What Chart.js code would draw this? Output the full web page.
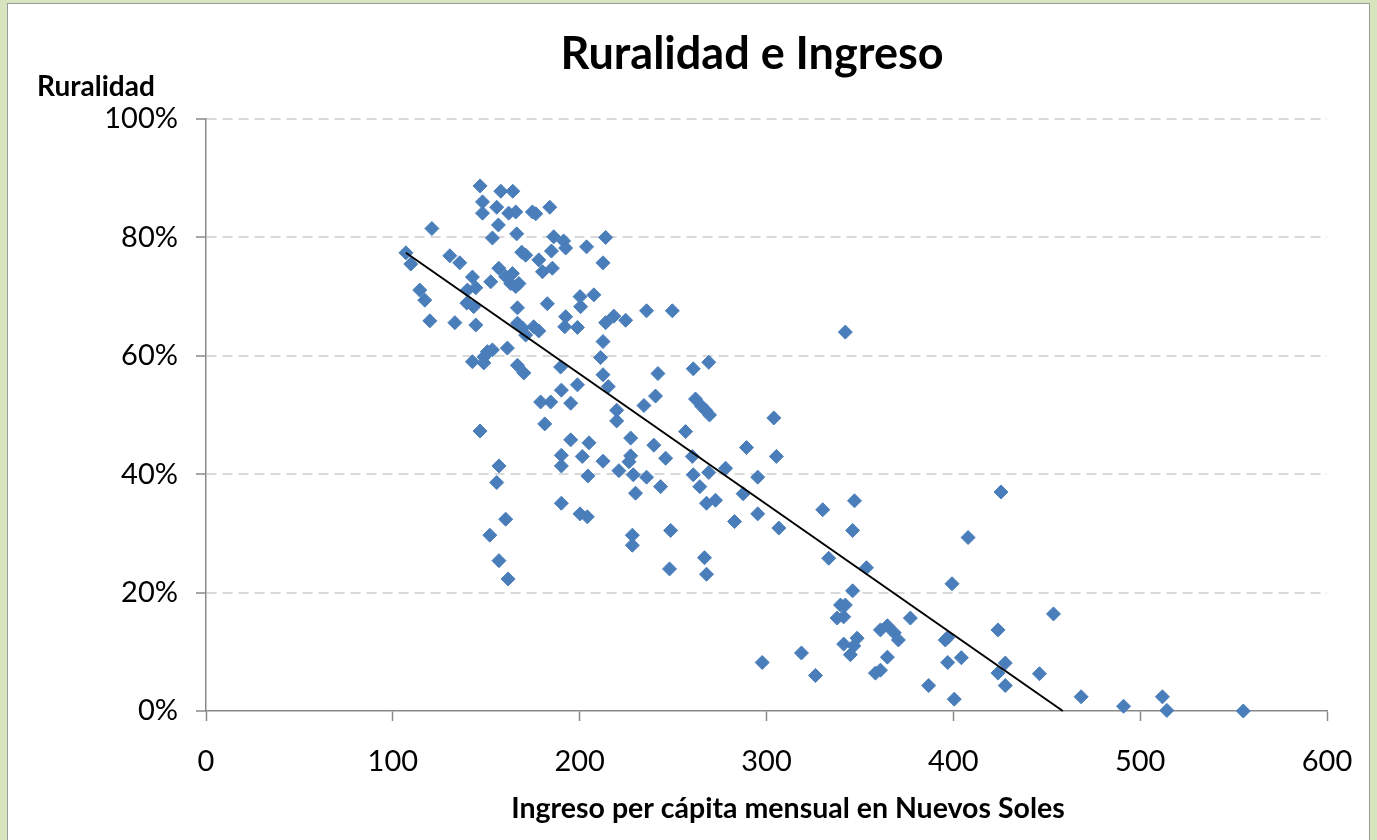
<!DOCTYPE html>
<html><head><meta charset="utf-8">
<script src="https://cdn.jsdelivr.net/npm/chart.js@4/dist/chart.umd.min.js"></script>
<style>html,body{margin:0;padding:0;background:#d7e4bd;overflow:hidden}canvas{display:block}</style>
</head><body>
<canvas id="c" width="1377" height="840" style="width:1377px;height:840px"></canvas>
<script>
// Ingreso per cápita mensual (Nuevos Soles)
const ingreso = [146.7,157.8,164.2,148.0,155.6,148.0,162.0,165.8,174.7,176.5,184.0,120.9,156.5,153.3,166.3,186.1,191.4,192.5,107.0,109.6,
130.5,135.8,169.0,171.1,178.1,184.9,180.1,185.4,142.6,156.7,160.4,164.0,163.1,167.5,165.8,152.4,139.9,144.4,114.4,117.1,
139.6,143.3,166.7,182.7,119.8,133.2,144.4,166.7,169.4,171.1,175.4,178.1,192.5,192.0,161.3,150.6,153.3,148.7,142.6,148.7,
166.7,189.8,170.1,190.2,179.1,184.5,195.2,181.3,146.7,195.2,190.2,190.2,156.8,155.6,190.2,160.4,151.9,156.8,161.7,203.7,
213.9,212.5,200.2,200.5,207.6,198.8,218.3,224.6,213.9,235.8,249.6,212.5,211.2,212.5,198.8,215.3,241.9,260.8,269.1,240.6,
219.8,219.8,234.4,262.0,265.2,267.4,269.5,256.7,205.0,227.3,239.7,201.4,212.5,227.3,226.4,246.0,260.3,221.0,228.7,204.4,
235.8,260.8,269.1,243.3,264.3,229.9,267.9,272.7,200.2,204.1,248.7,228.2,228.2,266.8,248.1,303.9,289.3,305.3,278.1,295.3,
287.5,295.3,282.9,330.1,347.1,306.6,346.1,333.3,353.5,267.9,346.1,339.6,342.2,337.8,341.3,361.0,364.7,368.4,370.6,341.3,
348.5,346.7,344.9,364.7,358.3,361.0,297.7,318.7,326.2,342.2,425.5,407.9,399.3,453.6,377.0,423.9,395.7,397.0,404.3,397.0,
427.8,423.9,446.1,427.8,386.8,400.5,468.4,491.1,511.9,514.3,555.2];
// Ruralidad (%)
const ruralidad = [88.7,87.8,87.8,86.0,85.1,84.1,84.1,84.3,84.3,84.0,85.1,81.5,82.1,79.9,80.6,80.1,79.4,78.2,77.4,75.5,
76.9,75.7,77.5,77.0,76.2,77.7,74.2,74.8,73.3,74.8,73.4,73.9,72.2,72.2,71.7,72.5,71.1,71.5,71.1,69.4,
68.9,68.3,68.1,68.8,65.9,65.6,65.2,65.5,64.7,63.5,64.9,64.2,66.6,64.9,61.3,60.7,61.0,59.8,59.0,58.8,
58.4,58.1,57.1,54.2,52.2,52.2,52.0,48.5,47.3,45.8,43.2,41.4,41.4,38.6,35.1,32.4,29.7,25.4,22.3,78.4,
80.0,75.7,70.0,68.3,70.3,64.8,66.7,66.0,65.6,67.6,67.6,62.4,59.7,56.8,55.1,54.8,57.0,57.8,58.9,53.2,
50.8,49.0,51.6,52.7,51.5,50.8,50.0,47.2,45.3,46.1,44.9,43.0,42.2,43.1,42.1,42.7,43.0,40.6,39.9,39.7,
39.5,39.9,40.3,37.9,37.9,36.8,35.1,35.6,33.3,32.8,30.5,29.7,28.0,25.9,24.0,49.5,44.5,43.0,41.0,39.5,
36.7,33.3,32.0,34.0,35.5,30.9,30.5,25.8,24.2,23.1,20.3,17.9,17.9,15.7,15.9,13.7,14.4,13.2,12.0,11.3,
12.3,11.0,9.5,9.1,6.4,6.9,8.2,9.8,6.0,64.0,37.0,29.3,21.5,16.4,15.7,13.7,12.0,12.4,9.0,8.2,
8.1,6.4,6.3,4.3,4.3,2.0,2.4,0.8,2.4,0.1,0.0];
// Línea de tendencia (lineal), recortada en 0%
const tendenciaX = [107.0, 458.6];
const tendenciaY = [77.4, 0];
// Ejes
const xMin = 0, xMax = 600, xStep = 100;
const yMin = 0, yMax = 100, yStep = 20;

const titulo = 'Ruralidad e Ingreso';
const tituloY = 'Ruralidad';
const tituloX = 'Ingreso per cápita mensual en Nuevos Soles';

const FONT = 'Lato, "Open Sans", sans-serif';
const AXIS = '#898989';

const framePlugin = {
  id: 'frame',
  beforeDraw(chart) {
    const ctx = chart.ctx;
    ctx.save();
    ctx.fillStyle = '#d7e4bd';
    ctx.fillRect(0, 0, chart.width, chart.height);
    ctx.fillStyle = '#ffffff';
    ctx.fillRect(8, 4, 1361, 840);
    ctx.strokeStyle = '#9a9a9a';
    ctx.lineWidth = 1;
    ctx.strokeRect(7.5, 3.5, 1362, 842);
    ctx.restore();
  },
  afterDraw(chart) {
    const ctx = chart.ctx;
    ctx.save();
    ctx.fillStyle = '#000';
    ctx.textBaseline = 'alphabetic';
    ctx.textAlign = 'center';
    ctx.font = 'bold 45px ' + FONT;
    ctx.fillText(titulo, 752, 69);
    ctx.textAlign = 'left';
    ctx.font = 'bold 28px ' + FONT;
    ctx.fillText(tituloY, 37, 96);
    ctx.textAlign = 'center';
    ctx.font = 'bold 28.5px ' + FONT;
    ctx.fillText(tituloX, 788, 818);
    ctx.restore();
  }
};

new Chart(document.getElementById('c'), {
  type: 'scatter',
  data: {
    datasets: [
      {
        type: 'line',
        data: tendenciaX.map((x, i) => ({x, y: tendenciaY[i]})),
        borderColor: '#000',
        borderWidth: 2,
        pointRadius: 0,
        fill: false,
        order: 0,
        clip: false
      },
      {
        data: ingreso.map((x, i) => ({x, y: ruralidad[i]})),
        pointStyle: 'rectRot',
        pointRadius: 7,
        backgroundColor: '#4a7ebb',
        borderColor: '#4a7ebb',
        borderWidth: 1,
        order: 1,
        clip: false
      }
    ]
  },
  options: {
    responsive: false,
    animation: false,
    devicePixelRatio: 1,
    layout: {padding: {left: 0, top: 119, right: 50, bottom: 0}},
    plugins: {legend: {display: false}, tooltip: {enabled: false}, title: {display: false}},
    scales: {
      x: {
        type: 'linear', min: xMin, max: xMax,
        afterFit: s => { s.height = 129; },
        ticks: {stepSize: xStep, color: '#000', font: {family: FONT, size: 29}, padding: 23, maxRotation: 0},
        grid: {drawOnChartArea: false, drawTicks: true, tickLength: 10, tickColor: AXIS, tickWidth: 1.5},
        border: {color: AXIS, width: 1.5}
      },
      y: {
        min: yMin, max: yMax,
        afterFit: s => { s.width = 206; },
        ticks: {stepSize: yStep, color: '#000', font: {family: FONT, size: 29}, padding: 18, callback: v => v + '%'},
        grid: {
          color: c => c.tick && c.tick.value === 0 ? 'rgba(0,0,0,0)' : '#d9d9d9',
          lineWidth: 2, drawTicks: true, tickLength: 10, tickColor: AXIS, tickWidth: 1.5
        },
        border: {color: AXIS, width: 1.5, dash: [10, 6]}
      }
    }
  },
  plugins: [framePlugin]
});
</script>
</body></html>
